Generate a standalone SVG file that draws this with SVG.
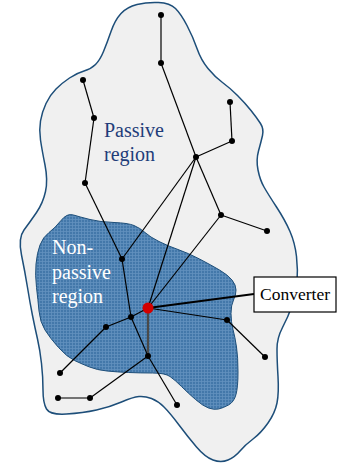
<svg xmlns="http://www.w3.org/2000/svg" width="338" height="466" viewBox="0 0 338 466">
  <defs>
    <!-- fine woven texture for the non-passive area -->
    <pattern id="weave" width="3" height="3" patternUnits="userSpaceOnUse">
      <rect width="3" height="3" fill="#4378aa"/>
      <path d="M0 0.5H3M0.5 0V3" stroke="#7aa6cf" stroke-width="0.8" opacity="0.55"/>
    </pattern>
  </defs>
  <style>
    .edge { stroke: #000; stroke-width: 1.2; fill: none; }
    .bus { fill: #000; }
    .label { font-family: "Liberation Serif", "Times New Roman", serif; }
  </style>

  <rect width="338" height="466" fill="#fff"/>

  <!-- passive region outline -->
  <g id="passive-region">
    <path fill="#f0f0f0" stroke="#1d4e79" stroke-width="1.5" d="M137 4.5
      Q147 2 158.5 2.5 Q170 3 175.5 8.5 Q181 14 187 25.5 Q193 37 197 48.5
      Q201 60 208 68.5 Q215 77 222.5 82.5 Q230 88 237.5 95.5 Q245 103 251 110.5
      Q257 118 260.5 123.5 Q264 129 262.5 135.5 Q261 142 258.5 151 Q256 160 258 170
      Q260 180 264 187 Q268 194 276.5 207 Q285 220 290 231.5 Q295 243 296.5 256.5
      Q298 270 297 282.5 Q296 295 292 306 Q288 317 282.5 327.5 Q277 338 277 349
      Q277 360 278 376.5 Q279 393 277 403 Q275 413 268 423 Q261 433 253 439
      Q245 445 240 451 Q235 457 228 460 Q221 463 213 460 Q205 457 196.5 447
      Q188 437 179 425 Q170 413 164 407 Q158 401 151.5 398.5 Q145 396 139 396.5
      Q133 397 121.5 402 Q110 407 96.5 410 Q83 413 66.5 414 Q50 415 46.5 409
      Q43 403 43 390 Q43 377 41.5 363.5 Q40 350 37.5 339 Q35 328 32.5 315.5
      Q30 303 27.5 287.5 Q25 272 21.5 255 Q18 238 24 230 Q30 222 36.5 212.5
      Q43 203 45.5 191.5 Q48 180 45 165 Q42 150 40.5 140 Q39 130 40.5 121
      Q42 112 46 103.5 Q50 95 56 89 Q62 83 69.5 78 Q77 73 84 71
      Q91 69 95.5 64.5 Q100 60 103.5 51.5 Q107 43 111 31.5 Q115 20 121 13.5
      Q127 7 137 4.5 Z"/>
    <text class="label" x="104" y="137" font-size="20" fill="#1f3d7a">Passive</text>
    <text class="label" x="104" y="161" font-size="20" fill="#1f3d7a">region</text>
  </g>

  <!-- non-passive region -->
  <g id="non-passive-region">
    <path fill="url(#weave)" stroke="#1d4e79" stroke-width="1" d="M61 220.5
      Q67 213 73.5 215 Q80 217 90 219.5 Q100 222 114 222.5 Q128 223 134 225.5
      Q140 228 145 232.5 Q150 237 159 241.5 Q168 246 178 249.5 Q188 253 199.5 259
      Q211 265 219.5 270 Q228 275 232 280 Q236 285 236 290 Q236 295 233.5 300
      Q231 305 231 313.5 Q231 322 233 329.5 Q235 337 236.5 347 Q238 357 238 372
      Q238 387 236 394.5 Q234 402 228.5 405 Q223 408 218.5 409 Q214 410 208.5 408
      Q203 406 195.5 399.5 Q188 393 181.5 386.5 Q175 380 170 376.5 Q165 373 152.5 373
      Q140 373 128.5 372.5 Q117 372 107 371 Q97 370 89.5 367 Q82 364 74.5 360.5
      Q67 357 58.5 347.5 Q50 338 45 330 Q40 322 39 311 Q38 300 36.5 287.5
      Q35 275 36 264 Q37 253 40 245 Q43 237 49 232.5 Q55 228 61 220.5 Z"/>
    <text class="label" x="52" y="254" font-size="20" fill="#fff">Non-</text>
    <text class="label" x="52" y="279" font-size="20" fill="#fff">passive</text>
    <text class="label" x="52" y="303" font-size="20" fill="#fff">region</text>
  </g>

  <!-- feeder lines -->
  <g id="connectors">
    <line class="edge" x1="161" y1="15" x2="161" y2="63"/>
    <line class="edge" x1="161" y1="63" x2="196" y2="157"/>
    <line class="edge" x1="230" y1="102" x2="232" y2="141"/>
    <line class="edge" x1="232" y1="141" x2="196" y2="157"/>
    <line class="edge" x1="83" y1="80" x2="94" y2="118"/>
    <line class="edge" x1="94" y1="118" x2="85" y2="183"/>
    <line class="edge" x1="85" y1="183" x2="122" y2="259"/>
    <line class="edge" x1="122" y1="259" x2="196" y2="157"/>
    <line class="edge" x1="196" y1="157" x2="221" y2="215"/>
    <line class="edge" x1="221" y1="215" x2="267" y2="231"/>
    <line class="edge" x1="221" y1="215" x2="148" y2="308"/>
    <line class="edge" x1="196" y1="157" x2="148" y2="308"/>
    <line class="edge" x1="122" y1="259" x2="131" y2="317"/>
    <line class="edge" x1="131" y1="317" x2="148" y2="308"/>
    <line class="edge" x1="131" y1="317" x2="106" y2="327"/>
    <line class="edge" x1="106" y1="327" x2="60" y2="373"/>
    <line class="edge" x1="131" y1="317" x2="148" y2="356"/>
    <line class="edge" x1="148" y1="356" x2="177" y2="405"/>
    <line class="edge" x1="148" y1="356" x2="90" y2="398"/>
    <line x1="90" y1="398" x2="58" y2="398" stroke="#666" stroke-width="1.8"/>
    <line x1="148" y1="308" x2="148" y2="356" stroke="#4a4a4a" stroke-width="2.2"/>
    <line class="edge" x1="148" y1="308" x2="227" y2="320"/>
    <line class="edge" x1="227" y1="320" x2="265" y2="357"/>
    <line x1="148" y1="308" x2="254" y2="294" stroke="#000" stroke-width="2"/>
  </g>

  <!-- buses -->
  <g id="buses">
    <circle class="bus" cx="161" cy="15" r="3"/>
    <circle class="bus" cx="161" cy="63" r="3"/>
    <circle class="bus" cx="230" cy="102" r="3"/>
    <circle class="bus" cx="232" cy="141" r="3"/>
    <circle class="bus" cx="196" cy="157" r="3"/>
    <circle class="bus" cx="83" cy="80" r="3"/>
    <circle class="bus" cx="94" cy="118" r="3"/>
    <circle class="bus" cx="85" cy="183" r="3"/>
    <circle class="bus" cx="221" cy="215" r="3"/>
    <circle class="bus" cx="267" cy="231" r="3"/>
    <circle class="bus" cx="122" cy="259" r="3"/>
    <circle class="bus" cx="131" cy="317" r="3"/>
    <circle class="bus" cx="106" cy="327" r="3"/>
    <circle class="bus" cx="227" cy="320" r="3"/>
    <circle class="bus" cx="265" cy="357" r="3"/>
    <circle class="bus" cx="148" cy="356" r="3"/>
    <circle class="bus" cx="60" cy="373" r="3"/>
    <circle class="bus" cx="58" cy="398" r="3"/>
    <circle class="bus" cx="90" cy="398" r="3"/>
    <circle class="bus" cx="177" cy="405" r="3"/>
  </g>

  <g id="converter-bus">
    <circle cx="148" cy="308" r="5.5" fill="#d40000"/>
  </g>

  <g id="converter-label">
    <rect x="254" y="277" width="82" height="35" fill="#fff" stroke="#000" stroke-width="1.2"/>
    <text class="label" x="295" y="300" font-size="17.5" text-anchor="middle" fill="#000">Converter</text>
  </g>
</svg>
